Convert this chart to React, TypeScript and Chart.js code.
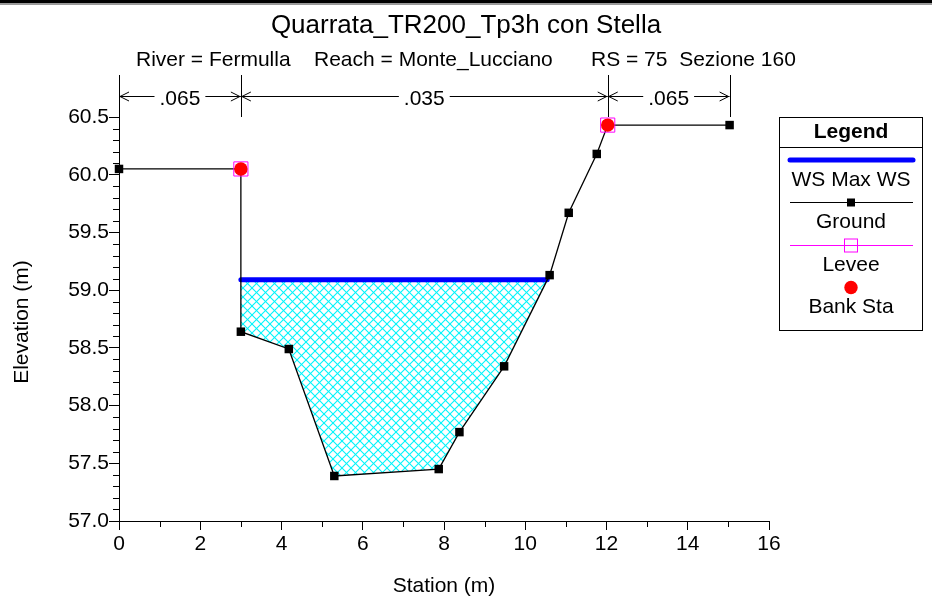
import React, { useEffect, useRef } from "react";
import { Chart, registerables } from "chart.js";

Chart.register(...registerables);

// ---- data ----
const chartTitle = "Quarrata_TR200_Tp3h con Stella";
const subtitleParts = ["River = Fermulla", "Reach = Monte_Lucciano", "RS = 75  Sezione 160"];

const groundStation = [0, 3.0, 3.0, 4.18, 5.3, 7.87, 8.38, 9.48, 10.6, 11.07, 11.76, 12.03, 15.03];
const groundElev = [60.05, 60.05, 58.64, 58.49, 57.39, 57.45, 57.77, 58.34, 59.13, 59.67, 60.18, 60.43, 60.43];

const wsElev = 59.09;
const wsStation = [3.0, 10.54];

const leveeStation = [3.0, 12.03];
const leveeElev = [60.05, 60.43];

const bankStation = [3.0, 12.03];
const bankElev = [60.05, 60.43];

const nBreaks = [0, 3.0, 12.03, 15.03];
const nValues = [".065", ".035", ".065"];

const xTicksMajor = [0, 2, 4, 6, 8, 10, 12, 14, 16];
const yTicksMajor = [57.0, 57.5, 58.0, 58.5, 59.0, 59.5, 60.0, 60.5];

const legendItems = ["WS Max WS", "Ground", "Levee", "Bank Sta"];

const FONT = "'Liberation Sans', Arial, Helvetica, sans-serif";

function makeHatch(): CanvasPattern | string {
  const s = 9;
  const c = document.createElement("canvas");
  c.width = s;
  c.height = s;
  const g = c.getContext("2d");
  if (!g) return "#00e5ee";
  g.strokeStyle = "#00f4fa";
  g.lineWidth = 1.1;
  for (const k of [-s, 0, s]) {
    g.beginPath();
    g.moveTo(k, 0);
    g.lineTo(k + s, s);
    g.stroke();
    g.beginPath();
    g.moveTo(k, s);
    g.lineTo(k + s, 0);
    g.stroke();
  }
  const p = g.createPattern(c, "repeat");
  return p || "#00e5ee";
}

function waterPolygon() {
  const pts: { x: number; y: number }[] = [];
  pts.push({ x: wsStation[0], y: wsElev });
  pts.push({ x: wsStation[1], y: wsElev });
  for (let i = groundStation.length - 1; i >= 0; i--) {
    const x = groundStation[i];
    const y = groundElev[i];
    if (x >= wsStation[0] && x <= wsStation[1] && y < wsElev) pts.push({ x, y });
  }
  pts.push({ x: wsStation[0], y: wsElev });
  return pts;
}

function text(
  ctx: CanvasRenderingContext2D,
  t: string,
  x: number,
  y: number,
  align: CanvasTextAlign,
  font: string,
  baseline: CanvasTextBaseline = "alphabetic"
) {
  ctx.save();
  ctx.font = font;
  ctx.textAlign = align;
  ctx.textBaseline = baseline;
  ctx.fillStyle = "#000";
  ctx.fillText(t, x, y);
  ctx.restore();
}

const F21 = `21px ${FONT}`;

const decorPlugin = {
  id: "decor",
  afterDraw(chart: any) {
    const ctx: CanvasRenderingContext2D = chart.ctx;
    const xs = chart.scales.x;
    const ys = chart.scales.y;
    const area = chart.chartArea;
    ctx.save();

    // window top frame
    ctx.fillStyle = "#000";
    ctx.fillRect(0, 0, chart.width, 3);
    ctx.fillStyle = "#9a9a9a";
    ctx.fillRect(0, 3, chart.width, 2);

    // titles
    text(ctx, chartTitle, 466, 33, "center", `26px ${FONT}`);
    const subX = [136, 314, 591];
    subtitleParts.forEach((t, i) => text(ctx, t, subX[i], 65.5, "left", F21));

    // axis titles
    text(ctx, "Station (m)", 444, 586, "center", F21, "middle");
    ctx.save();
    ctx.translate(22, 322);
    ctx.rotate(-Math.PI / 2);
    text(ctx, "Elevation (m)", 0, 0, "center", F21, "middle");
    ctx.restore();

    // minor ticks
    ctx.strokeStyle = "#000";
    ctx.lineWidth = 1;
    ctx.beginPath();
    for (let v = 1; v < 16; v += 2) {
      const px = Math.round(xs.getPixelForValue(v)) + 0.5;
      ctx.moveTo(px, area.bottom);
      ctx.lineTo(px, area.bottom + 6);
    }
    for (let k = 571; k < 605; k++) {
      if (k % 5 === 0) continue;
      const py = Math.round(ys.getPixelForValue(k / 10)) + 0.5;
      ctx.moveTo(area.left - 6, py);
      ctx.lineTo(area.left, py);
    }
    ctx.stroke();

    // Manning's n annotations
    const yTop = 75;
    const yArr = 96;
    ctx.beginPath();
    nBreaks.forEach((b) => {
      const px = Math.round(xs.getPixelForValue(b)) + 0.5;
      ctx.moveTo(px, yTop);
      ctx.lineTo(px, area.top);
    });
    ctx.stroke();
    ctx.font = F21;
    nValues.forEach((label, i) => {
      const x1 = xs.getPixelForValue(nBreaks[i]);
      const x2 = xs.getPixelForValue(nBreaks[i + 1]);
      const mid = (x1 + x2) / 2;
      const w = ctx.measureText(label).width;
      ctx.beginPath();
      ctx.moveTo(x1, yArr + 0.5);
      ctx.lineTo(mid - w / 2 - 5, yArr + 0.5);
      ctx.moveTo(mid + w / 2 + 5, yArr + 0.5);
      ctx.lineTo(x2, yArr + 0.5);
      // arrow heads
      ctx.moveTo(x1 + 10, yArr - 4);
      ctx.lineTo(x1 + 1, yArr + 0.5);
      ctx.lineTo(x1 + 10, yArr + 5);
      ctx.moveTo(x2 - 10, yArr - 4);
      ctx.lineTo(x2 - 1, yArr + 0.5);
      ctx.lineTo(x2 - 10, yArr + 5);
      ctx.stroke();
      text(ctx, label, mid, 104.5, "center", F21);
    });

    // legend box
    const L = 779.5, R = 922.5, T = 117.5, B = 330.5;
    const cx = (L + R) / 2;
    ctx.fillStyle = "#fff";
    ctx.fillRect(L, T, R - L, B - T);
    ctx.strokeStyle = "#000";
    ctx.lineWidth = 1;
    ctx.strokeRect(L, T, R - L, B - T);
    ctx.beginPath();
    ctx.moveTo(L, 147.5);
    ctx.lineTo(R, 147.5);
    ctx.stroke();
    text(ctx, "Legend", cx, 137.5, "center", `bold 21px ${FONT}`);

    // WS
    ctx.strokeStyle = "#0000ff";
    ctx.lineWidth = 5;
    ctx.lineCap = "round";
    ctx.beginPath();
    ctx.moveTo(790, 160);
    ctx.lineTo(913, 160);
    ctx.stroke();
    ctx.lineCap = "butt";
    text(ctx, legendItems[0], cx, 186, "center", F21);
    // Ground
    ctx.strokeStyle = "#000";
    ctx.lineWidth = 1;
    ctx.beginPath();
    ctx.moveTo(790, 202.5);
    ctx.lineTo(913, 202.5);
    ctx.stroke();
    ctx.fillStyle = "#000";
    ctx.fillRect(cx - 4, 198.5, 8, 8);
    text(ctx, legendItems[1], cx, 228, "center", F21);
    // Levee
    ctx.strokeStyle = "#ff00ff";
    ctx.beginPath();
    ctx.moveTo(790, 245.5);
    ctx.lineTo(913, 245.5);
    ctx.stroke();
    ctx.strokeRect(cx - 6.5, 239, 13, 13);
    text(ctx, legendItems[2], cx, 270.5, "center", F21);
    // Bank
    ctx.fillStyle = "#ff0000";
    ctx.beginPath();
    ctx.arc(cx, 287.5, 6.7, 0, Math.PI * 2);
    ctx.fill();
    text(ctx, legendItems[3], cx, 313, "center", F21);

    ctx.restore();
  },
};

export default function App() {
  const ref = useRef<HTMLCanvasElement | null>(null);

  useEffect(() => {
    if (!ref.current) return;
    const hatch = makeHatch();
    const ground = groundStation.map((x, i) => ({ x, y: groundElev[i] }));
    const chart = new Chart(ref.current, {
      type: "line",
      data: {
        datasets: [
          {
            label: "Bank Sta",
            data: bankStation.map((x, i) => ({ x, y: bankElev[i] })),
            showLine: false,
            pointStyle: "circle",
            pointRadius: 6.7,
            pointBackgroundColor: "#ff0000",
            pointBorderColor: "#ff0000",
            pointBorderWidth: 0,
            clip: false,
          },
          {
            label: "Levee",
            data: leveeStation.map((x, i) => ({ x, y: leveeElev[i] })),
            showLine: false,
            pointStyle: "rect",
            pointRadius: 10,
            pointBackgroundColor: "rgba(0,0,0,0)",
            pointBorderColor: "#ff00ff",
            pointBorderWidth: 1,
            clip: false,
          },
          {
            label: "Ground",
            data: ground,
            borderColor: "#000",
            borderWidth: 1.3,
            pointStyle: "rect",
            pointRadius: 6,
            pointBackgroundColor: "#000",
            pointBorderWidth: 0,
            tension: 0,
            clip: false,
          },
          {
            label: "WS Max WS",
            data: wsStation.map((x) => ({ x, y: wsElev })),
            borderColor: "#0000ff",
            borderWidth: 5,
            borderCapStyle: "round",
            pointRadius: 0,
            clip: false,
          },
          {
            label: "Water",
            data: waterPolygon(),
            borderWidth: 0,
            borderColor: "rgba(0,0,0,0)",
            backgroundColor: hatch as any,
            fill: "shape",
            pointRadius: 0,
          },
        ],
      },
      options: {
        animation: false,
        responsive: false,
        maintainAspectRatio: false,
        events: [],
        layout: { padding: { left: 0, right: 163, top: 117, bottom: 0 } },
        plugins: {
          legend: { display: false },
          title: { display: false },
          tooltip: { enabled: false },
        },
        scales: {
          x: {
            type: "linear",
            min: 0,
            max: 16,
            afterBuildTicks: (s: any) => {
              s.ticks = xTicksMajor.map((v) => ({ value: v }));
            },
            ticks: {
              color: "#000",
              font: { family: FONT, size: 21 },
              padding: 2,
              maxRotation: 0,
              autoSkip: false,
            },
            grid: { drawOnChartArea: false, tickLength: 9, tickColor: "#000", color: "#000" },
            border: { color: "#000", width: 1 },
            afterFit: (s: any) => {
              s.height = 604 - 521;
            },
          },
          y: {
            type: "linear",
            min: 57,
            max: 60.5,
            afterBuildTicks: (s: any) => {
              s.ticks = yTicksMajor.map((v) => ({ value: v }));
            },
            ticks: {
              color: "#000",
              font: { family: FONT, size: 21 },
              padding: 0,
              autoSkip: false,
              callback: (v: any) => Number(v).toFixed(1),
            },
            grid: { drawOnChartArea: false, tickLength: 10, tickColor: "#000", color: "#000" },
            border: { color: "#000", width: 1 },
            afterFit: (s: any) => {
              s.width = 119;
            },
          },
        },
      },
      plugins: [decorPlugin],
    });
    return () => chart.destroy();
  }, []);

  return (
    <div style={{ position: "absolute", left: 0, top: 0, width: 932, height: 604, background: "#fff" }}>
      <canvas ref={ref} width={932} height={604} style={{ display: "block", width: 932, height: 604 }} />
    </div>
  );
}
